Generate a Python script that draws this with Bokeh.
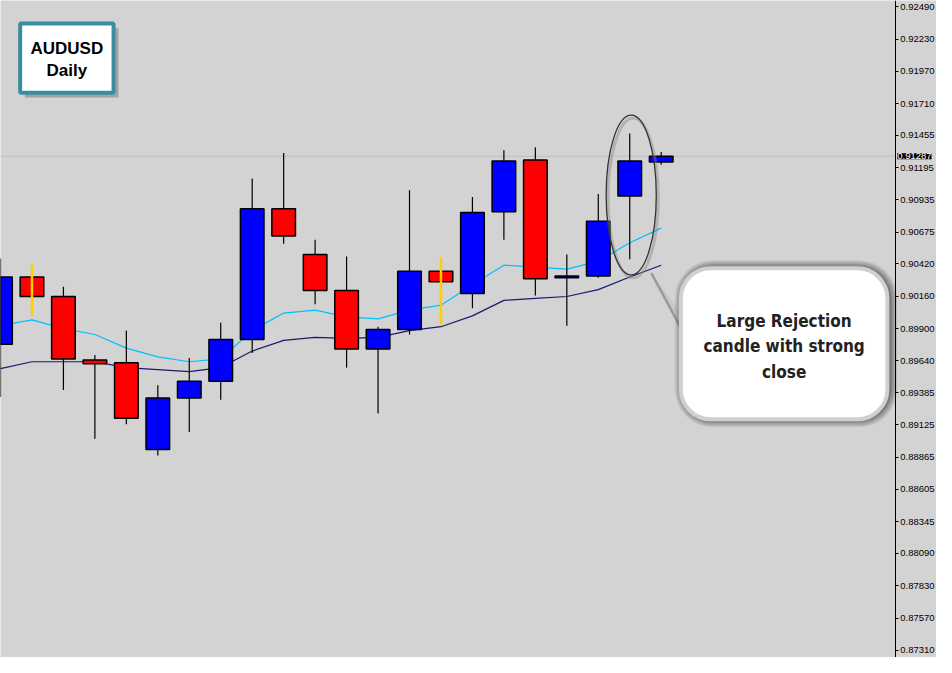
from bokeh.plotting import figure
from bokeh.models import Range1d, FixedTicker, PrintfTickFormatter, Label
from bokeh.embed import file_html
from bokeh.resources import INLINE
from bokeh.core.properties import value

# ---------------- data (AUDUSD daily) ----------------
opens  = [0.89774, 0.90315, 0.90158, 0.89648, 0.89625, 0.88926, 0.89342, 0.89476,
          0.89813, 0.90865, 0.90496, 0.90206, 0.89735, 0.89892, 0.90362, 0.90182,
          0.90841, 0.91257, 0.90308, 0.90323, 0.90967, 0.91241]
highs  = [0.90464, 0.90417, 0.90237, 0.89688, 0.89884, 0.89444, 0.89664, 0.89947,
          0.91108, 0.91312, 0.90614, 0.90480, 0.89915, 0.91014, 0.90472, 0.90959,
          0.91335, 0.91359, 0.90496, 0.90982, 0.91469, 0.91320]
lows   = [0.89350, 0.90002, 0.89405, 0.89013, 0.89130, 0.88879, 0.89068, 0.89327,
          0.89703, 0.90582, 0.90096, 0.89586, 0.89217, 0.89852, 0.89931, 0.90064,
          0.90614, 0.90166, 0.89923, 0.90308, 0.90457, 0.91218]
closes = [0.90315, 0.90158, 0.89656, 0.89617, 0.89178, 0.89342, 0.89476, 0.89813,
          0.90865, 0.90645, 0.90206, 0.89735, 0.89892, 0.90362, 0.90276, 0.90833,
          0.91249, 0.90300, 0.90323, 0.90763, 0.91249, 0.91287]
ma_fast = [0.89923, 0.89970, 0.89899, 0.89852, 0.89743, 0.89672, 0.89633, 0.89656,
           0.89884, 0.90025, 0.90049, 0.89994, 0.89978, 0.90049, 0.90088, 0.90253,
           0.90410, 0.90394, 0.90378, 0.90441, 0.90590, 0.90708]
ma_slow = [0.89578, 0.89633, 0.89633, 0.89633, 0.89586, 0.89570, 0.89554, 0.89586,
           0.89719, 0.89805, 0.89829, 0.89821, 0.89829, 0.89884, 0.89915, 0.90002,
           0.90127, 0.90143, 0.90158, 0.90213, 0.90315, 0.90410]
highlight_wicks = [1, 14]
tick_values = [0.92490, 0.92230, 0.91970, 0.91710, 0.91455, 0.91195, 0.90935,
               0.90675, 0.90420, 0.90160, 0.89900, 0.89640, 0.89385, 0.89125,
               0.88865, 0.88605, 0.88345, 0.88090, 0.87830, 0.87570, 0.87310]
last_price = 0.91287
title_lines = ["AUDUSD", "Daily"]
note_lines = ["Large Rejection", "candle with strong", "close"]

# ---------------- figure ----------------
BG = "#D3D3D3"
PX = 1 / 32.0          # one reference pixel in x units
PY = 0.00007847        # one reference pixel in price units
AXIS_X = 910 * PX      # where the price scale sits

p = figure(width=936, height=657, output_backend="svg", toolbar_location=None,
           x_range=Range1d(0, 952 * PX), y_range=Range1d(0.87253, 0.92540),
           x_axis_location=None, y_axis_location="right", min_border=0)
p.background_fill_color = BG
p.border_fill_color = BG
p.outline_line_color = None
p.grid.visible = False

ax = p.yaxis[0]
ax.fixed_location = AXIS_X
ax.ticker = FixedTicker(ticks=tick_values)
ax.formatter = PrintfTickFormatter(format="%.5f")
ax.major_label_text_font = "Liberation Sans"
ax.major_label_text_font_size = "9.5px"
ax.major_label_text_color = "#000000"
ax.major_tick_in = 0
ax.major_tick_out = 3
ax.minor_tick_line_color = None
ax.axis_line_color = "#000000"
ax.major_tick_line_color = "#000000"
ax.major_label_standoff = 2

# current price line (stops at the price scale)
p.segment(x0=[0], y0=[last_price], x1=[AXIS_X], y1=[last_price],
          line_color="#BDBDBD", line_width=1, level="underlay")

idx = list(range(len(opens)))
# moving averages
p.line(idx, ma_fast, line_color="#00BFFF", line_width=1.2)
p.line(idx, ma_slow, line_color="#191970", line_width=1.2)

# candles
wick_idx = [i for i in idx if i not in highlight_wicks]
p.segment(x0=wick_idx, y0=[lows[i] for i in wick_idx], x1=wick_idx,
          y1=[highs[i] for i in wick_idx], line_color="#000000", line_width=1.2)
tops = [max(o, c) for o, c in zip(opens, closes)]
bots = [min(o, c) for o, c in zip(opens, closes)]
cols = ["#0000FF" if c >= o else "#FF0000" for o, c in zip(opens, closes)]
p.vbar(x=idx, top=tops, bottom=bots, width=0.75, fill_color=cols,
       line_color="#000000", line_width=1.5)
p.segment(x0=highlight_wicks, y0=[lows[i] for i in highlight_wicks],
          x1=highlight_wicks, y1=[highs[i] for i in highlight_wicks],
          line_color="#FFD000", line_width=2.5)

# ---------------- title box ----------------
bl, br, bt, bb = 20 * PX, 115 * PX, 0.92230 + 16 * PY, 0.92230 - 55 * PY
p.quad(left=bl + 5 * PX, right=br + 5 * PX, top=bt - 5 * PY, bottom=bb - 5 * PY,
       fill_color="#7A7A7A", fill_alpha=0.55, line_color=None)
p.quad(left=bl, right=br, top=bt, bottom=bb, fill_color="#FFFFFF",
       line_color="#3A8C9E", line_width=4)
p.text(x=[(bl + br) / 2] * 2, y=[0.92230 - 10 * PY, 0.92230 - 32 * PY],
       text=title_lines, text_font=value("Liberation Sans"), text_font_style="bold",
       text_font_size="17px", text_color="#000000", text_align="center",
       text_baseline="middle")

# ---------------- ellipse highlight ----------------
ex, ey, ew, eh = 641.5 * PX, 0.92230 - 160 * PY, 51 * PX, 164 * PY
p.ellipse(x=[ex + 2 * PX], y=[ey - 3 * PY], width=ew, height=eh, fill_alpha=0,
          line_color="#8A8A8A", line_alpha=0.45, line_width=3)
p.ellipse(x=[ex], y=[ey], width=ew, height=eh, fill_alpha=0,
          line_color="#333333", line_width=1.3)

# ---------------- callout ----------------
cl, cr, ct, cb = 692 * PX, 902 * PX, 0.92230 - 235 * PY, 0.92230 - 390 * PY
p.patch(x=[662 * PX, 694 * PX, 694 * PX], y=[0.92230 - 240 * PY, 0.92230 - 284 * PY,
        0.92230 - 300 * PY], fill_color="#BEBEBE", fill_alpha=0.6, line_color=None)
p.line(x=[662 * PX, 694 * PX], y=[0.92230 - 240 * PY, 0.92230 - 300 * PY],
       line_color="#9A9A9A", line_width=2.5)
for e, a in [(8, 0.10), (6, 0.12), (4, 0.14), (2, 0.16)]:
    p.quad(left=cl - e * PX + 2 * PX, right=cr + e * PX + 2 * PX,
           top=ct + e * PY, bottom=cb - e * PY,
           fill_color="#000000", fill_alpha=a, line_color=None, border_radius=30 + e)
p.quad(left=cl, right=cr, top=ct, bottom=cb, fill_color="#FFFFFF",
       line_color="#D0D0D0", line_width=4, border_radius=30)
p.text(x=[(cl + cr) / 2] * 3,
       y=[0.92230 - 289 * PY, 0.92230 - 315 * PY, 0.92230 - 341 * PY],
       text=note_lines, text_font=value("DejaVu Sans Condensed"), text_font_style="bold",
       text_font_size="17px", text_color="#222222", text_align="center",
       text_baseline="middle")

# ---------------- last price tag ----------------
p.add_layout(Label(x=AXIS_X, y=last_price, x_offset=2, text=f"{last_price:.5f}",
                   text_color="#FFFFFF", background_fill_color="#000000",
                   text_font="Liberation Sans", text_font_size="9.5px",
                   text_baseline="middle", text_align="left", level="overlay"))

open("out.html", "w").write(file_html(p, INLINE))
